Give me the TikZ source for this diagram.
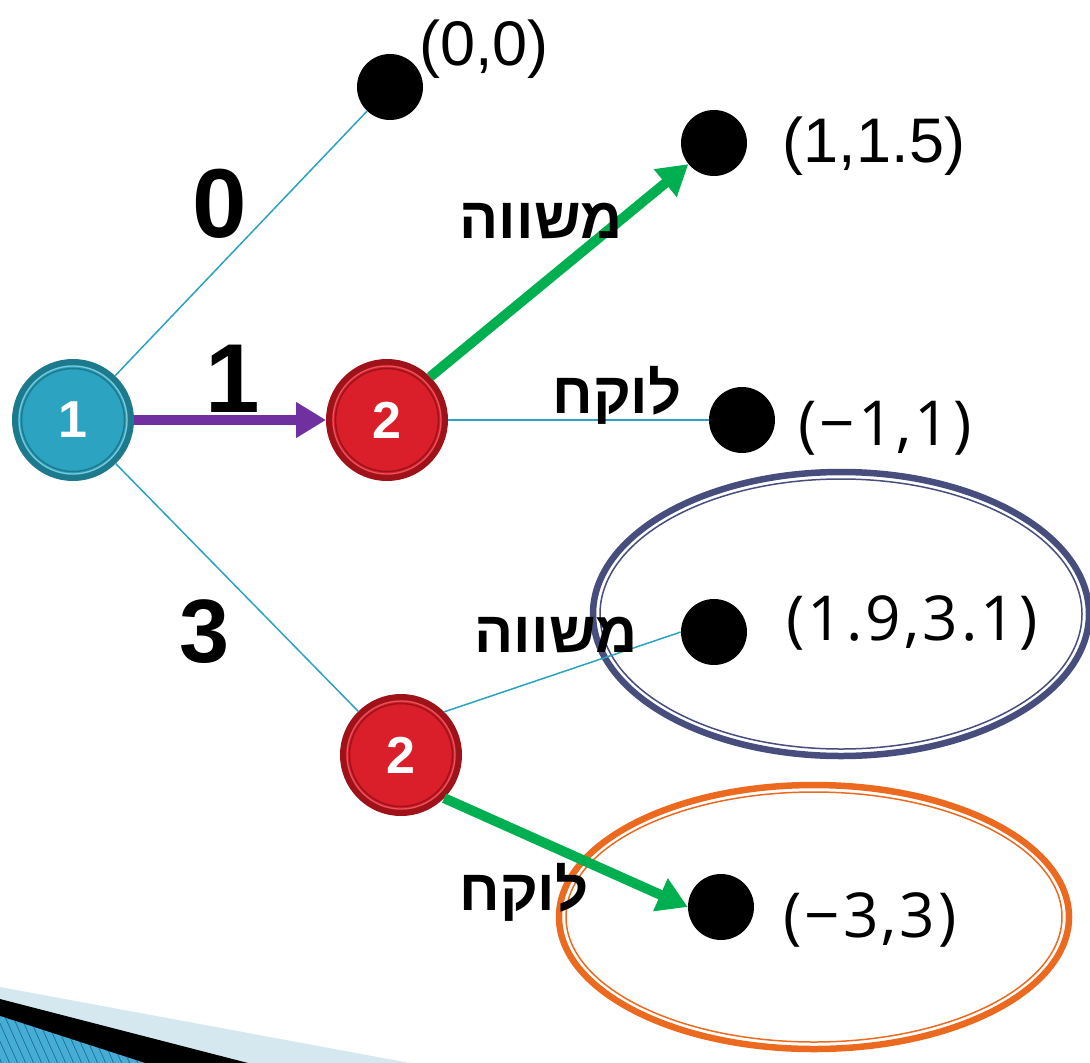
\documentclass[tikz,border=0pt]{standalone}
\usepackage{fontspec}
\setmainfont{Liberation Sans}
\newfontfamily\hebfont[Script=Hebrew]{Liberation Sans}
\newfontfamily\leaffont[LetterSpace=5]{Open Sans}
\TeXXeTstate=1
\usetikzlibrary{arrows.meta}
\definecolor{pone}{HTML}{2BA3C1}
\definecolor{ponedark}{HTML}{1D7A8D}
\definecolor{ptwo}{HTML}{DA1F2B}
\definecolor{ptwodark}{HTML}{A0121A}
\definecolor{edgeblue}{HTML}{2AA2C0}
\definecolor{movepurple}{HTML}{7030A0}
\definecolor{movegreen}{HTML}{00B050}
\definecolor{ringnavy}{HTML}{474E7E}
\definecolor{ringorange}{HTML}{EB6A20}
\definecolor{bandlight}{HTML}{D5E8EF}
\definecolor{bandblue}{HTML}{45ADD6}
\definecolor{bandline}{HTML}{1F6F8F}

\begin{document}
\begin{tikzpicture}[x=1pt,y=-1pt,
 player/.style={circle,inner sep=0,minimum size=116,line width=6,text=white,
  font=\fontsize{52}{52}\selectfont\bfseries},
 playerone/.style={player,draw=ponedark,fill=pone,
  path picture={\draw[white!40!pone,line width=1.2] (path picture bounding box.center) circle (54);
   \draw[ponedark,line width=1.5] (path picture bounding box.center) circle (51.5);}},
 playertwo/.style={player,draw=ptwodark,fill=ptwo,
  path picture={\draw[white!25!ptwo,line width=1.2] (path picture bounding box.center) circle (54);
   \draw[ptwodark,line width=1.5] (path picture bounding box.center) circle (51.5);}},
 leaf/.style={circle,fill=black,inner sep=0,minimum size=66},
 leaflab/.style={anchor=base,font=\fontsize{63}{63}\selectfont},
 leaflabb/.style={anchor=base,font=\leaffont\fontsize{62}{62}\selectfont},
 choice/.style={anchor=base,font=\fontsize{98}{98}\selectfont\bfseries},
 reply/.style={anchor=base,font=\hebfont\fontsize{58}{58}\selectfont\bfseries},
 branch/.style={edgeblue,line width=1.5},
 bestmove/.style={movegreen,line width=10,-{Triangle[length=30,width=34]}}]
 \useasboundingbox (0,0) rectangle (1090,1063);
 % slide corner
 \fill[bandlight] (0,987)--(410,1063)--(0,1063)--cycle;
 \fill[black] (0,999)--(248,1063)--(0,1063)--cycle;
 \begin{scope}
  \clip (0,1016)--(145,1063)--(0,1063)--cycle;
  \fill[bandblue] (0,1000) rectangle (150,1063);
  \foreach \k in {-30,-22,...,150} \draw[bandline,line width=.7] (\k,1010)--(\k+25,1066);
 \end{scope}
 % rings round the last leaves
 \draw[ringnavy,line width=6.5] (841,614) ellipse [x radius=248,y radius=142];
 \draw[ringnavy,line width=1.5] (841,614) ellipse [x radius=241,y radius=135];
 \draw[ringorange,line width=6.5] (814,917) ellipse [x radius=255,y radius=132];
 \draw[ringorange,line width=1.5] (814,917) ellipse [x radius=248,y radius=125];
 % tree
 \node[playerone] (n1) at (73,420) {1};
 \node[playertwo] (n2a) at (387,420) {2};
 \node[playertwo] (n2b) at (401,755) {2};
 \node[leaf] (lA) at (390,87) {};
 \node[leaf] (lB) at (714,143) {};
 \node[leaf] (lC) at (742,420) {};
 \node[leaf] (lD) at (714,632) {};
 \node[leaf] (lE) at (721,907) {};
 \draw[branch] (n1)--(lA);
 \draw[branch] (n1)--(n2b);
 \draw[branch] (n2a.east)--(lC.west);
 \draw[branch] (n2b.45)--(lD.west);
 \draw[movepurple,line width=10,-{Triangle[length=30,width=34]}] (n1.east)--(n2a.west);
 \draw[bestmove] (n2a.45)--(lB);
 \draw[bestmove] (n2b.-45)--(lE.west);
 % offers and replies
 \node[choice] (cA) at (220,237) {0};
 \node[choice] (cB) at (233,412) {1};
 \node[choice,font=\fontsize{90}{90}\selectfont\bfseries] (cC) at (205,662) {3};
 \node[reply] (rA) at (541,238) {\beginR משווה\endR};
 \node[reply] (rB) at (617,413) {\beginR לוקח\endR};
 \node[reply] (rC) at (556,652) {\beginR משווה\endR};
 \node[reply] (rD) at (524,910) {\beginR לוקח\endR};
 % pay-offs
 \node[leaflab] (pA) at (484,65) {(0,0)};
 \node[leaflab] (pB) at (874,162) {(1,1.5)};
 \node[leaflabb] (pC) at (885,445) {(−1,1)};
 \node[leaflabb] (pD) at (912,640) {(1.9,3.1)};
 \node[leaflabb] (pE) at (870,937) {(−3,3)};
\end{tikzpicture}
\end{document}
